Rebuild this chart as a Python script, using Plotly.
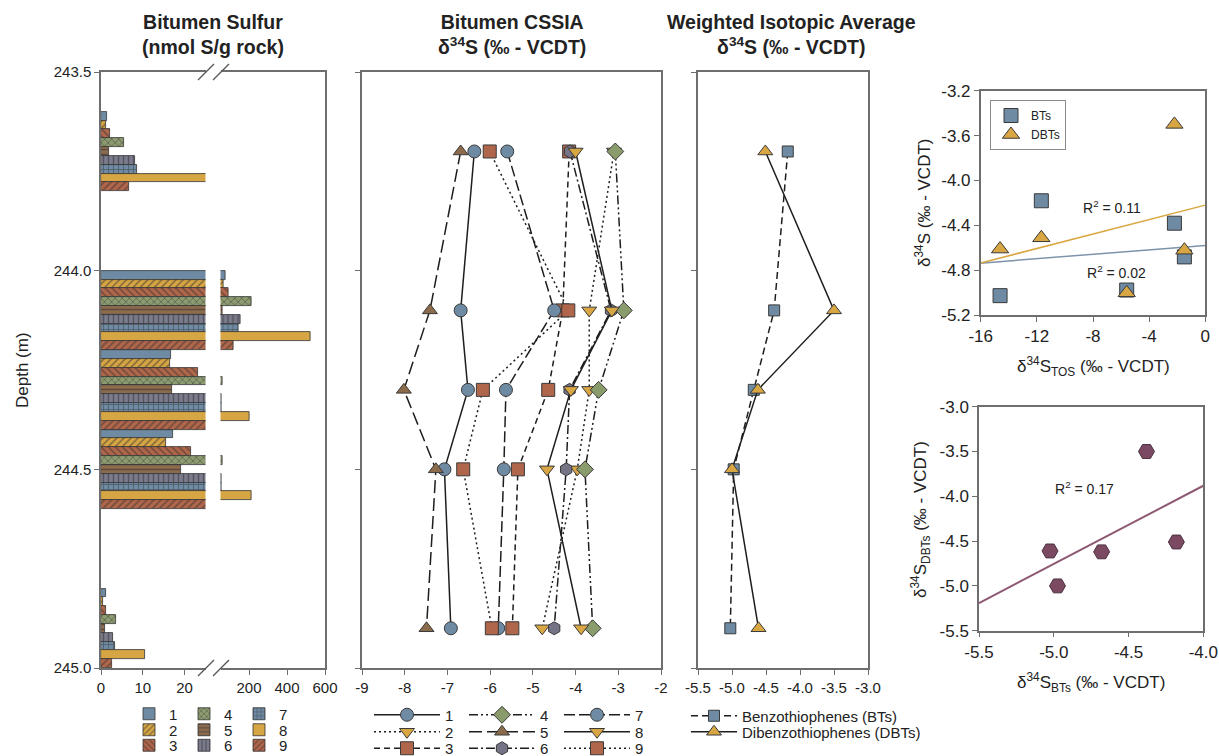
import numpy as np
import plotly.graph_objects as go

W, H = 1219, 756
def px(x): return x / W
def py(y): return 1 - y / H

# ---------------- data ----------------
depths = [243.7, 244.1, 244.3, 244.5, 244.9]
depth_ticks = [243.5, 244.0, 244.5, 245.0]
compounds = ["1", "2", "3", "4", "5", "6", "7", "8", "9"]

# Bitumen sulfur (nmol S/g rock) for each compound at each depth
sulfur_1 = [1.5, 74, 16.7, 17.2, 1.2]
sulfur_2 = [1.1, 68, 16.4, 15.6, 0.5]
sulfur_3 = [2.1, 93, 23.1, 21.6, 1.2]
sulfur_4 = [5.6, 212, 60, 62, 3.6]
sulfur_5 = [1.9, 61, 17.1, 19.2, 1.0]
sulfur_6 = [8.2, 156, 57, 55, 2.9]
sulfur_7 = [8.5, 146, 55, 55, 3.4]
sulfur_8 = [30, 523, 202, 212, 10.6]
sulfur_9 = [6.7, 119, 30, 30, 2.7]
sulfur = [sulfur_1, sulfur_2, sulfur_3, sulfur_4, sulfur_5,
          sulfur_6, sulfur_7, sulfur_8, sulfur_9]

# Bitumen CSSIA d34S (permil VCDT)
cssia_1 = [-6.37, -6.69, -6.52, -7.07, -6.92]
cssia_2 = [-3.10, -3.68, -3.68, -3.96, -4.78]
cssia_3 = [-4.15, -4.30, -4.64, -5.35, -5.48]
cssia_4 = [-3.07, -2.87, -3.46, -3.78, -3.60]
cssia_5 = [-6.69, -7.41, -8.02, -7.27, -7.49]
cssia_6 = [-4.13, -3.17, -4.14, -4.22, -4.50]
cssia_7 = [-5.60, -4.50, -5.63, -5.68, -5.81]
cssia_8 = [-4.00, -3.15, -4.11, -4.67, -3.87]
cssia_9 = [-6.01, -4.17, -6.17, -6.63, -5.96]
cssia = [cssia_1, cssia_2, cssia_3, cssia_4, cssia_5,
         cssia_6, cssia_7, cssia_8, cssia_9]

# Weighted isotopic averages and TOS
bt_avg = [-4.18, -4.38, -4.68, -4.975, -5.025]
dbt_avg = [-4.51, -3.50, -4.62, -5.00, -4.61]
tos = [-11.68, -2.20, -1.49, -5.60, -14.62]

# axis ranges / ticks
seg1_range = [0, 25]
seg1_ticks = [0, 10, 20]
seg2_range = [50, 600]
seg2_ticks = [200, 400, 600]
cssia_range = [-9, -2]
cssia_ticks = [-9, -8, -7, -6, -5, -4, -3, -2]
wavg_range = [-5.5, -3.0]
wavg_ticks = [-5.5, -5.0, -4.5, -4.0, -3.5, -3.0]
tos_range = [-16, 0]
tos_ticks = [-16, -12, -8, -4, 0]
s1y_range = [-5.2, -3.2]
s1y_ticks = [-5.2, -4.8, -4.4, -4.0, -3.6, -3.2]
s2x_range = [-5.5, -4.0]
s2x_ticks = [-5.5, -5.0, -4.5, -4.0]
s2y_range = [-5.5, -3.0]
s2y_ticks = [-5.5, -5.0, -4.5, -4.0, -3.5, -3.0]

# ---------------- styles ----------------
FONT = "Arial, Liberation Sans, sans-serif"
TXT = "#222222"
AX = "#6e6e6e"
bar_colors = ["#6F8BA3", "#D6A544", "#B0664A", "#8D9C70", "#8C6B4E",
              "#7B7B8E", "#6F8BA3", "#D6A544", "#B0664A"]
bar_patterns = ["", "/", "\\", "x", "-", "|", "+", "", "/"]
line_dash = ["solid", "2px,3px", "6px,4px", "9px,3px,2px,3px,2px,3px", "13px,5px",
             "9px,3px,2px,3px", "11px,4px", "solid", "2px,3px"]
msym = ["circle", "triangle-down", "square", "diamond", "triangle-up",
        "hexagon", "circle", "triangle-down", "square"]
mcol = ["#6F8BA3", "#D8A643", "#B0664A", "#8A9B6C", "#8B6B4B",
        "#747486", "#6F8BA3", "#D8A643", "#B0664A"]
bar_leg = ["legend", "legend2", "legend3"]
line_leg = ["legend4", "legend5", "legend6"]

fig = go.Figure()

# ---- bars (broken axis: two segments) ----
for i in range(9):
    mk = dict(color=bar_colors[i], line=dict(color="#333333", width=0.8),
              pattern=dict(shape=bar_patterns[i], fillmode="overlay",
                           fgcolor="#2e2e2e", size=5, solidity=0.3))
    fig.add_trace(go.Bar(x=sulfur[i], y=depths, orientation="h", name=compounds[i],
                         marker=mk, xaxis="x", yaxis="y", legend=bar_leg[i % 3]))
    fig.add_trace(go.Bar(x=sulfur[i], y=depths, orientation="h", name=compounds[i],
                         marker=mk, xaxis="x2", yaxis="y2", showlegend=False))

# ---- CSSIA ----
for i in range(9):
    fig.add_trace(go.Scatter(
        x=cssia[i], y=depths, mode="lines+markers", name=compounds[i],
        xaxis="x3", yaxis="y3", legend=line_leg[i % 3],
        line=dict(color="#1e1e1e", width=1.5, dash=line_dash[i]),
        marker=dict(symbol=msym[i], size=13, color=mcol[i],
                    line=dict(color="#3a3a3a", width=1))))

# ---- weighted averages ----
fig.add_trace(go.Scatter(x=bt_avg, y=depths, mode="lines+markers",
                         name="Benzothiophenes (BTs)", xaxis="x4", yaxis="y4", legend="legend7",
                         line=dict(color="#1e1e1e", width=1.5, dash="7px,4px"),
                         marker=dict(symbol="square", size=11, color="#6F8BA3",
                                     line=dict(color="#3a3a3a", width=1))))
fig.add_trace(go.Scatter(x=dbt_avg, y=depths, mode="lines+markers",
                         name="Dibenzothiophenes (DBTs)", xaxis="x4", yaxis="y4", legend="legend9",
                         line=dict(color="#1e1e1e", width=1.5),
                         marker=dict(symbol="triangle-up", size=13, color="#D8A643",
                                     line=dict(color="#3a3a3a", width=1))))

# ---- scatter 1: d34S vs TOS ----
xfit = np.array(tos_range, dtype=float)
b1 = np.polyfit(tos, bt_avg, 1)
b2 = np.polyfit(tos, dbt_avg, 1)
fig.add_trace(go.Scatter(x=xfit, y=np.polyval(b1, xfit), mode="lines", showlegend=False,
                         xaxis="x5", yaxis="y5", line=dict(color="#7C93AA", width=1.5)))
fig.add_trace(go.Scatter(x=xfit, y=np.polyval(b2, xfit), mode="lines", showlegend=False,
                         xaxis="x5", yaxis="y5", line=dict(color="#D9A640", width=1.5)))
fig.add_trace(go.Scatter(x=tos, y=bt_avg, mode="markers", name="BTs", xaxis="x5", yaxis="y5",
                         legend="legend8",
                         marker=dict(symbol="square", size=14, color="#6F8BA3",
                                     line=dict(color="#3a3a3a", width=1))))
fig.add_trace(go.Scatter(x=tos, y=dbt_avg, mode="markers", name="DBTs", xaxis="x5", yaxis="y5",
                         legend="legend8",
                         marker=dict(symbol="triangle-up", size=15, color="#D8A643",
                                     line=dict(color="#3a3a3a", width=1))))

# ---- scatter 2: DBTs vs BTs ----
xfit2 = np.array(s2x_range, dtype=float)
b3 = np.polyfit(bt_avg, dbt_avg, 1)
fig.add_trace(go.Scatter(x=xfit2, y=np.polyval(b3, xfit2), mode="lines", showlegend=False,
                         xaxis="x6", yaxis="y6", line=dict(color="#8E5A73", width=2)))
fig.add_trace(go.Scatter(x=bt_avg, y=dbt_avg, mode="markers", showlegend=False,
                         xaxis="x6", yaxis="y6",
                         marker=dict(symbol="hexagon2", size=16, color="#7B4A62",
                                     line=dict(color="#4a3040", width=1))))

# ---------------- axes ----------------
def axis(domain, rng, tickvals, ticktext, anchor, fs=15, **kw):
    d = dict(domain=domain, range=rng, anchor=anchor, showgrid=False, zeroline=False,
             showline=True, linecolor=AX, linewidth=1.5, ticks="outside", ticklen=5,
             tickcolor=AX, tickwidth=1, tickvals=tickvals, ticktext=ticktext,
             tickfont=dict(family=FONT, size=fs, color=TXT), automargin=False)
    d.update(kw)
    return d

ydom = [py(668), py(72)]
depth_rng = [245.0, 243.5]
depth_txt = [f"{v:.1f}" for v in depth_ticks]

fig.update_layout(
    xaxis=axis([px(101), px(205.5)], seg1_range, seg1_ticks, [str(v) for v in seg1_ticks], "y", mirror=True),
    xaxis2=axis([px(220.5), px(325)], seg2_range, seg2_ticks, [str(v) for v in seg2_ticks], "y2", mirror=True),
    yaxis=axis(ydom, depth_rng, depth_ticks, depth_txt, "x"),
    yaxis2=axis(ydom, depth_rng, depth_ticks, depth_txt, "x2", side="right", ticks="", showticklabels=False),
    xaxis3=axis([px(362), px(661)], cssia_range, cssia_ticks, [str(v) for v in cssia_ticks], "y3", mirror=True),
    yaxis3=axis(ydom, depth_rng, depth_ticks, depth_txt, "x3", mirror=True, showticklabels=False),
    xaxis4=axis([px(698), px(868)], wavg_range, wavg_ticks, [f"{v:.1f}" for v in wavg_ticks], "y4", mirror=True),
    yaxis4=axis(ydom, depth_rng, depth_ticks, depth_txt, "x4", mirror=True, showticklabels=False),
    xaxis5=axis([px(980.7), px(1205.3)], tos_range, tos_ticks, [str(v) for v in tos_ticks], "y5", fs=17, mirror=True),
    yaxis5=axis([py(315.3), py(90.7)], s1y_range, s1y_ticks, [f"{v:.1f}" for v in s1y_ticks], "x5", fs=17, mirror=True),
    xaxis6=axis([px(979), px(1203.3)], s2x_range, s2x_ticks, [f"{v:.1f}" for v in s2x_ticks], "y6", fs=17, mirror=True),
    yaxis6=axis([py(630.7), py(406.7)], s2y_range, s2y_ticks, [f"{v:.1f}" for v in s2y_ticks], "x6", fs=17, mirror=True),
)

# ---------------- legends ----------------
def hleg(x, y, itemwidth, entrywidth, size):
    return dict(orientation="h", x=px(x), y=py(y), xanchor="left", yanchor="middle",
                itemwidth=itemwidth, entrywidth=entrywidth, entrywidthmode="pixels",
                bgcolor="rgba(0,0,0,0)", font=dict(family=FONT, size=size, color=TXT),
                tracegroupgap=0)

fig.update_layout(
    legend=hleg(129, 714, 30, 10, 15),
    legend2=hleg(129, 730, 30, 10, 15),
    legend3=hleg(129, 745.5, 30, 10, 15),
    legend4=hleg(369, 715, 66, 14, 15),
    legend5=hleg(369, 732, 66, 14, 15),
    legend6=hleg(369, 748.5, 66, 14, 15),
    legend7=hleg(686, 716, 46, 0, 15),
    legend9=hleg(686, 732, 46, 0, 15),
    legend8=dict(x=px(990), y=py(100), xanchor="left", yanchor="top", itemwidth=30,
                 bgcolor="white", bordercolor="#8a8a8a", borderwidth=1,
                 font=dict(family=FONT, size=12, color=TXT), tracegroupgap=0),
)

# ---------------- annotations ----------------
delta = "δ"
ann = []
def A(text, x, y, size=14, bold=False, angle=0, xanchor="center"):
    ann.append(dict(text=f"<b>{text}</b>" if bold else text, x=px(x), y=py(y),
                    xref="paper", yref="paper", showarrow=False, textangle=angle,
                    xanchor=xanchor, yanchor="middle",
                    font=dict(family=FONT, size=size, color=TXT)))

A("Bitumen Sulfur<br>(nmol S/g rock)", 213, 34, size=19.5, bold=True)
A(f"Bitumen CSSIA<br>{delta}<sup>34</sup>S (‰ - VCDT)", 512, 34, size=19.5, bold=True)
A(f"Weighted Isotopic Average<br>{delta}<sup>34</sup>S (‰ - VCDT)", 791, 34, size=19.5, bold=True)
A("Depth (m)", 22, 370, size=17, angle=-90)
A(f"{delta}<sup>34</sup>S (‰ - VCDT)", 923, 203, size=17, angle=-90)
A(f"{delta}<sup>34</sup>S<sub>TOS</sub> (‰ - VCDT)", 1093, 366, size=17)
A(f"{delta}<sup>34</sup>S<sub>DBTs</sub> (‰ - VCDT)", 920, 520, size=17, angle=-90)
A(f"{delta}<sup>34</sup>S<sub>BTs</sub> (‰ - VCDT)", 1091, 682, size=17)
A("R<sup>2</sup> = 0.11", 1112, 207, size=14)
A("R<sup>2</sup> = 0.02", 1116, 272, size=14)
A("R<sup>2</sup> = 0.17", 1084, 488, size=14)

# broken-axis marks
shapes = []
for yb in (72, 668):
    for xb in (206, 221):
        shapes.append(dict(type="line", xref="paper", yref="paper",
                           x0=px(xb - 8), y0=py(yb + 8), x1=px(xb + 8), y1=py(yb - 8),
                           line=dict(color="#555555", width=1.2)))

fig.update_layout(
    width=W, height=H, margin=dict(l=0, r=0, t=0, b=0, autoexpand=False),
    paper_bgcolor="white", plot_bgcolor="white",
    barmode="group", bargap=0, bargroupgap=0,
    annotations=ann, shapes=shapes,
    font=dict(family=FONT, color=TXT),
)

fig.write_html("out.html")
